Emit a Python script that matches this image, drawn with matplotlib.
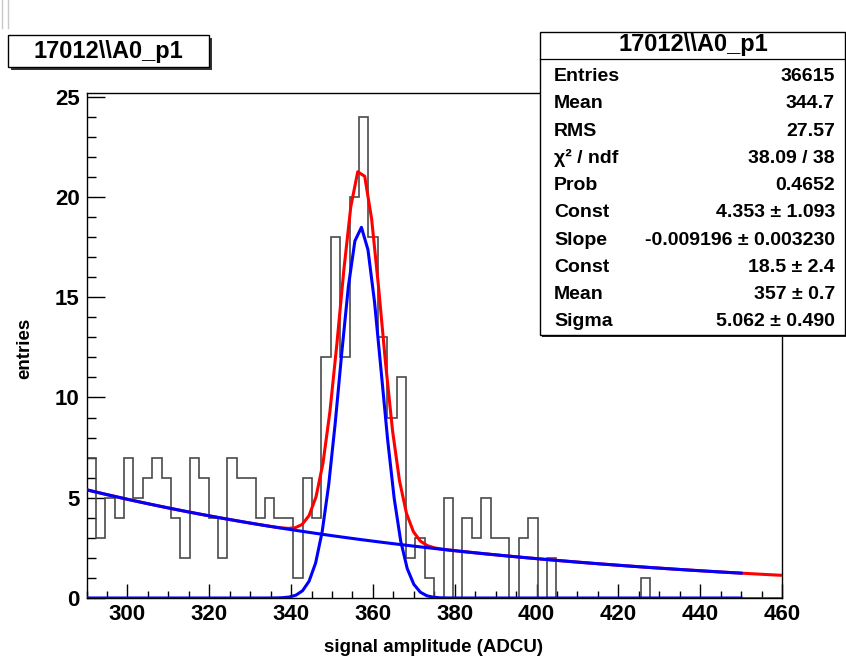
import numpy as np
import matplotlib
matplotlib.use("Agg")
import matplotlib.pyplot as plt
from matplotlib.patches import Rectangle
from matplotlib.lines import Line2D

# ---------------- data ----------------
hist_lo, hist_hi = 290.0, 460.0
counts = [7, 3, 5, 4, 7, 5, 6, 7, 6, 4,
          2, 7, 6, 4, 2, 7, 6, 6, 4, 5,
          4, 4, 1, 6, 4, 12, 18, 12, 20, 24,
          18, 13, 9, 11, 2, 3, 1, 0, 5, 0,
          4, 3, 5, 3, 3, 0, 3, 4, 0, 2,
          0, 0, 0, 0, 0, 0, 0, 0, 0, 1,
          0, 0, 0, 0, 0, 0, 0, 0, 0, 0,
          0, 0, 0, 0]

# fit parameters (expo + gaus)
bg_const, bg_slope = 4.353, -0.009196
g_const, g_mean, g_sigma = 18.5, 357.0, 5.062
total_range = (290.0, 460.0)
comp_range = (290.0, 450.0)

hist_name = "17012\\\\A0_p1"
stat_labels = ["Entries", "Mean", "RMS", "\u03c7\u00b2 / ndf", "Prob", "Const",
               "Slope", "Const", "Mean", "Sigma"]
stat_values = ["36615", "344.7", "27.57", "38.09 / 38", "0.4652",
               "4.353 \u00b1 1.093", "-0.009196 \u00b1 0.003230",
               "18.5 \u00b1 2.4", "357 \u00b1 0.7", "5.062 \u00b1 0.490"]

x_label = "signal amplitude (ADCU)"
y_label = "entries"

# ---------------- figure ----------------
W, H = 846, 660
fig = plt.figure(figsize=(W / 100, H / 100), dpi=100)
FONT = "Liberation Sans"
plt.rcParams["font.family"] = [FONT, "DejaVu Sans"]


def fx(x):
    return x / W


def fy(y):
    return 1 - y / H


ax_l, ax_r, ax_t, ax_b = 86.5, 782.0, 92.7, 598.0
ax = fig.add_axes([fx(ax_l), fy(ax_b), (ax_r - ax_l) / W, (ax_b - ax_t) / H])

edges = np.linspace(hist_lo, hist_hi, len(counts) + 1)
ax.stairs(counts, edges, color="#4a4a4a", lw=1.2, baseline=0, zorder=2)


def expo(x):
    return np.exp(bg_const + bg_slope * x)


def gaus(x):
    return g_const * np.exp(-0.5 * ((x - g_mean) / g_sigma) ** 2)


xt = np.linspace(total_range[0], total_range[1], 101)
ax.plot(xt, expo(xt) + gaus(xt), color="#ff0000", lw=2.2, zorder=3)
xc = np.linspace(comp_range[0], comp_range[1], 101)
ax.plot(xc, expo(xc), color="#0000ff", lw=2.2, zorder=4)
ax.plot(xc, gaus(xc), color="#0000ff", lw=2.2, zorder=4)

ax.set_xlim(hist_lo, hist_hi)
ax.set_ylim(0, 25.2)
ax.set_xticks(np.arange(300, 461, 20))
ax.set_xticks(np.arange(290, 461, 5), minor=True)
ax.set_yticks(np.arange(0, 26, 5))
ax.set_yticks(np.arange(0, 26, 1), minor=True)
ax.tick_params(axis="x", which="major", direction="in", length=10, width=1, pad=4,
               labelsize=16)
ax.tick_params(axis="x", which="minor", direction="in", length=5, width=1)
ax.tick_params(axis="y", which="major", direction="in", length=13, width=1, pad=5,
               labelsize=16)
ax.tick_params(axis="y", which="minor", direction="in", length=6.5, width=1)
for lab in ax.get_xticklabels() + ax.get_yticklabels():
    lab.set_fontweight("bold")
    lab.set_family(FONT)
for sp in ax.spines.values():
    sp.set_linewidth(1.0)
    sp.set_color("black")

fig.text(fx(434), fy(648), x_label, ha="center", va="center", fontsize=13.5,
         fontweight="bold", family=FONT)
fig.text(fx(25), fy(348), y_label, ha="center", va="center", fontsize=13.5,
         fontweight="bold", family=FONT, rotation=90)

# ---------------- title box ----------------
tb_l, tb_t, tb_r, tb_b = 8, 35, 209, 67
fig.patches.append(Rectangle((fx(tb_l + 3), fy(tb_b + 3)), (tb_r - tb_l) / W,
                             (tb_b - tb_t) / H, transform=fig.transFigure,
                             facecolor="#333333", edgecolor="none", zorder=5))
fig.patches.append(Rectangle((fx(tb_l), fy(tb_b)), (tb_r - tb_l) / W,
                             (tb_b - tb_t) / H, transform=fig.transFigure,
                             facecolor="white", edgecolor="black", lw=1.0, zorder=6))
fig.text(fx((tb_l + tb_r) / 2), fy(51.5), hist_name, ha="center", va="center",
         fontsize=17, fontweight="bold", family=FONT, zorder=7)

# ---------------- stats box ----------------
sb_l, sb_t, sb_r, sb_b = 540, 31.5, 845, 335
fig.patches.append(Rectangle((fx(sb_l + 2), fy(sb_b + 2)), (sb_r - sb_l) / W,
                             (sb_b - sb_t) / H, transform=fig.transFigure,
                             facecolor="#222222", edgecolor="none", zorder=5))
fig.patches.append(Rectangle((fx(sb_l), fy(sb_b)), (sb_r - sb_l) / W,
                             (sb_b - sb_t) / H, transform=fig.transFigure,
                             facecolor="white", edgecolor="black", lw=1.0, zorder=6))
fig.lines.append(Line2D([fx(sb_l), fx(sb_r)], [fy(58.5), fy(58.5)],
                        transform=fig.transFigure, color="black", lw=0.9, zorder=7))
fig.text(fx(693), fy(45), hist_name, ha="center", va="center", fontsize=17,
         fontweight="bold", family=FONT, zorder=8)
row_y0, row_dy = 76.7, 27.22
for i, (lab, val) in enumerate(zip(stat_labels, stat_values)):
    yy = row_y0 + i * row_dy
    fig.text(fx(554), fy(yy), lab, ha="left", va="center", fontsize=14,
             fontweight="bold", family=FONT, zorder=8)
    fig.text(fx(835), fy(yy), val, ha="right", va="center", fontsize=14,
             fontweight="bold", family=FONT, zorder=8)

# faint marks in the top-left corner
for xx in (2, 8):
    fig.lines.append(Line2D([fx(xx), fx(xx)], [fy(0), fy(28)],
                            transform=fig.transFigure, color="#c8c8c8", lw=1.0))

fig.savefig("out.png", dpi=100, facecolor="white")
